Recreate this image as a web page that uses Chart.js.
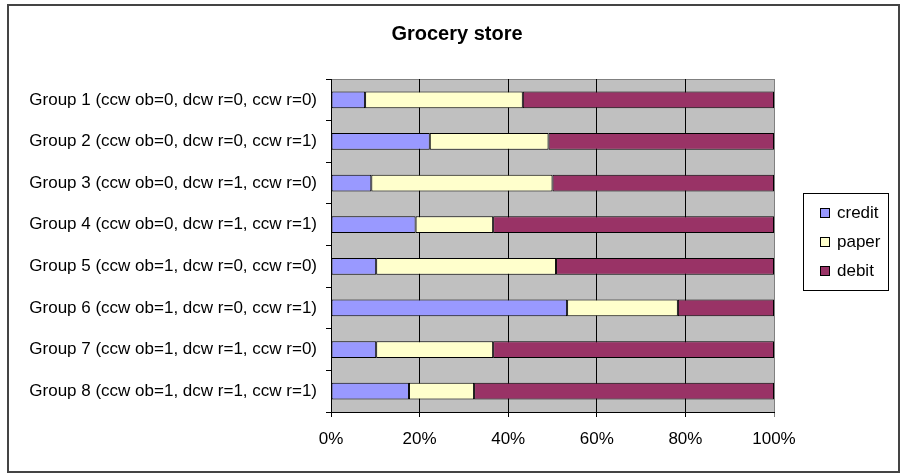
<!DOCTYPE html>
<html>
<head>
<meta charset="utf-8">
<script src="https://cdn.jsdelivr.net/npm/chart.js@4.4.0/dist/chart.umd.min.js"></script>
<style>
  html, body { margin: 0; padding: 0; background: #fff; }
  canvas { display: block; }
</style>
</head>
<body>
<canvas id="grocery-chart" width="906" height="476"></canvas>
<script>
const groups = [
  'Group 1 (ccw ob=0, dcw r=0, ccw r=0)',
  'Group 2 (ccw ob=0, dcw r=0, ccw r=1)',
  'Group 3 (ccw ob=0, dcw r=1, ccw r=0)',
  'Group 4 (ccw ob=0, dcw r=1, ccw r=1)',
  'Group 5 (ccw ob=1, dcw r=0, ccw r=0)',
  'Group 6 (ccw ob=1, dcw r=0, ccw r=1)',
  'Group 7 (ccw ob=1, dcw r=1, ccw r=0)',
  'Group 8 (ccw ob=1, dcw r=1, ccw r=1)',
];
// share of each payment type, in percent
const credit = [7.7, 22.3, 9.1, 19.1, 10.2, 53.3, 10.2, 17.6];
const paper = [35.6, 26.8, 40.9, 17.5, 40.6, 25.0, 26.4, 14.7];
const debit = [56.7, 50.9, 50.0, 63.4, 49.2, 21.7, 63.4, 67.7];
const chartTitle = 'Grocery store';

Chart.defaults.font.family = '"Liberation Sans", Arial, sans-serif';
Chart.defaults.font.size = 17;
Chart.defaults.color = '#000';

// grey plot area, outer frame and the title (centred on the whole frame, not the plot)
const backdrop = {
  id: 'backdrop',
  beforeDraw(chart) {
    const { ctx, chartArea: a } = chart;
    ctx.save();
    ctx.fillStyle = '#fff';
    ctx.fillRect(0, 0, chart.width, chart.height);
    ctx.fillStyle = '#c0c0c0';
    ctx.fillRect(a.left, a.top, a.right - a.left, a.bottom - a.top);
    ctx.strokeStyle = '#808080';
    ctx.lineWidth = 1;
    ctx.beginPath();
    ctx.moveTo(a.left, a.top + 0.5);
    ctx.lineTo(a.right, a.top + 0.5);
    ctx.stroke();
    ctx.strokeStyle = '#444';
    ctx.lineWidth = 2;
    ctx.strokeRect(8, 5, 891, 467);
    ctx.fillStyle = '#000';
    ctx.font = 'bold 20px "Liberation Sans", Arial, sans-serif';
    ctx.textAlign = 'center';
    ctx.textBaseline = 'middle';
    ctx.fillText(chartTitle, 457, 34);
    ctx.restore();
  },
};

// boxed legend on the right
const boxLegend = {
  id: 'boxLegend',
  afterDraw(chart) {
    const { ctx } = chart;
    const left = 803, top = 193, w = 85, h = 97;
    ctx.save();
    ctx.fillStyle = '#fff';
    ctx.fillRect(left, top, w, h);
    ctx.strokeStyle = '#000';
    ctx.lineWidth = 1;
    ctx.strokeRect(left + 0.5, top + 0.5, w, h);
    ctx.font = '17px "Liberation Sans", Arial, sans-serif';
    ctx.textBaseline = 'middle';
    chart.data.datasets.forEach((ds, i) => {
      const cy = 212.5 + i * 29;
      ctx.fillStyle = ds.backgroundColor;
      ctx.fillRect(820, cy - 4.5, 9, 9);
      ctx.strokeRect(820.5, cy - 4, 9, 9);
      ctx.fillStyle = '#000';
      ctx.fillText(ds.label, 837, cy + 1);
    });
    ctx.restore();
  },
};

const barStyle = {
  borderColor: '#000',
  borderWidth: 1,
  borderSkipped: false,
  barPercentage: 0.4,
  categoryPercentage: 1,
};

new Chart(document.getElementById('grocery-chart'), {
  type: 'bar',
  data: {
    labels: groups,
    datasets: [
      { label: 'credit', data: credit, backgroundColor: '#9999ff', ...barStyle },
      { label: 'paper', data: paper, backgroundColor: '#ffffcc', ...barStyle },
      { label: 'debit', data: debit, backgroundColor: '#993366', ...barStyle },
    ],
  },
  options: {
    indexAxis: 'y',
    responsive: false,
    animation: false,
    events: [],
    layout: {
      padding: { left: 16, right: 132, top: 79, bottom: 26 },
    },
    plugins: {
      legend: { display: false },
      tooltip: { enabled: false },
    },
    scales: {
      x: {
        stacked: true,
        min: 0,
        max: 100,
        afterFit: (axis) => { axis.height = 38; },
        ticks: {
          stepSize: 20,
          padding: 12,
          maxRotation: 0,
          callback: (v) => v + '%',
        },
        grid: {
          color: (c) => (c.tick && c.tick.value === 100 ? '#808080' : '#000'),
          tickLength: 5,
        },
        border: { color: '#000' },
      },
      y: {
        stacked: true,
        afterFit: (axis) => { axis.width = 315; },
        ticks: { padding: 9, autoSkip: false },
        grid: {
          drawOnChartArea: false,
          tickLength: 5,
          color: '#000',
        },
        border: { color: '#000' },
      },
    },
  },
  plugins: [backdrop, boxLegend],
});
</script>
</body>
</html>
